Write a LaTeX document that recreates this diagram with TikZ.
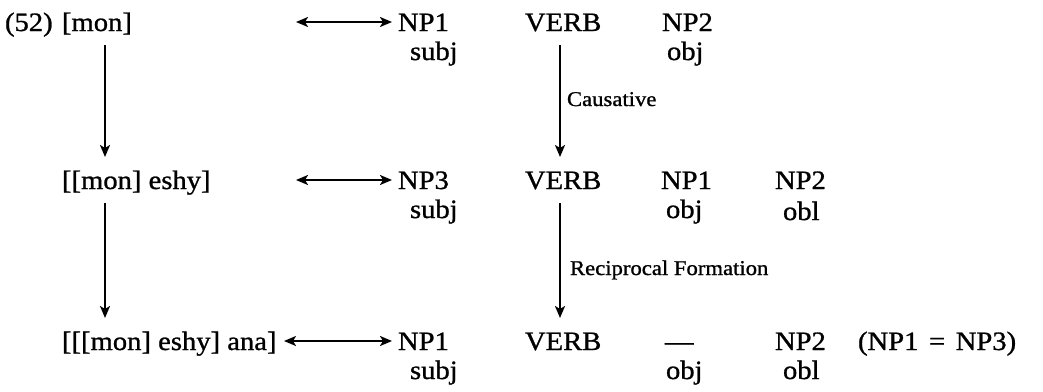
\documentclass[tikz,border=0pt]{standalone}
\usepackage{fontspec}
\setmainfont[FakeStretch=1.08,FakeBold=1.0]{Liberation Serif}
\usetikzlibrary{arrows.meta}
\begin{document}
\begin{tikzpicture}[x=1pt,y=-1pt,
  t/.style={anchor=base west,inner sep=0pt,outer sep=0pt,text height=17pt,text depth=6pt,font=\fontsize{26.5}{30}\selectfont},
  lab/.style={anchor=base west,inner sep=0pt,outer sep=0pt,font=\fontsize{21}{24}\selectfont},
  tip/.tip={Stealth[length=12pt,width=10pt,inset=3pt]},
  arr/.style={line width=2pt,-tip},
  dbl/.style={line width=2pt,tip-tip},
  down/.style={arr,shorten <=8pt,shorten >=15pt}]
\useasboundingbox (0,0) rectangle (1043,391);
% row 1
\node[t] (ex) at (5,31) {(52)};
\node[t] (mon) at (62,31) {[mon]};
\node[t] (s1) at (398,31) {NP1};
\node[t] (v1) at (525,31) {VERB};
\node[t] (o1) at (662,31) {NP2};
\node[t] (s1r) at (410,60) {subj};
\node[t] (o1r) at (667,60) {obj};
% row 2
\node[t] (eshy) at (62,189) {[[mon] eshy]};
\node[t] (s2) at (398,189) {NP3};
\node[t] (v2) at (525,189) {VERB};
\node[t] (o2) at (661,189) {NP1};
\node[t] (b2) at (775,189) {NP2};
\node[t] (s2r) at (410,218) {subj};
\node[t] (o2r) at (666,218) {obj};
\node[t] (b2r) at (783,220) {obl};
% row 3
\node[t] (ana) at (62,350) {[[[mon] eshy] ana]};
\node[t] (s3) at (398,350) {NP1};
\node[t] (v3) at (525,350) {VERB};
\node[t] (o3) at (665,350) {---};
\node[t] (b3) at (775,350) {NP2};
\node[t] (eq) at (858,350) {(NP1\hspace{0.4em}=\hspace{0.4em}NP3)};
\node[t] (s3r) at (410,379) {subj};
\node[t] (o3r) at (666,379) {obj};
\node[t] (b3r) at (783,379) {obl};
% labels
\node[lab] (cau) at (567,106) {Causative};
\node[lab] (rec) at (570,275) {Reciprocal Formation};
% helper coordinates
\coordinate (lx) at (105,0);
\coordinate (rx) at (560,0);
\coordinate (h1) at (296,22);
\coordinate (h2) at (296,180);
\coordinate (h3) at (284,341);
% vertical arrows
\draw[down] (mon.south -| lx) -- (eshy.north -| lx);
\draw[down] (eshy.south -| lx) -- (ana.north -| lx);
\draw[down] (v1.south -| rx) -- (v2.north -| rx);
\draw[down] (v2.south -| rx) -- (v3.north -| rx);
% horizontal double arrows
\draw[dbl,shorten >=6pt] (h1) -- (h1 -| s1.west);
\draw[dbl,shorten >=6pt] (h2) -- (h2 -| s2.west);
\draw[dbl,shorten >=6pt] (h3) -- (h3 -| s3.west);
\end{tikzpicture}
\end{document}
